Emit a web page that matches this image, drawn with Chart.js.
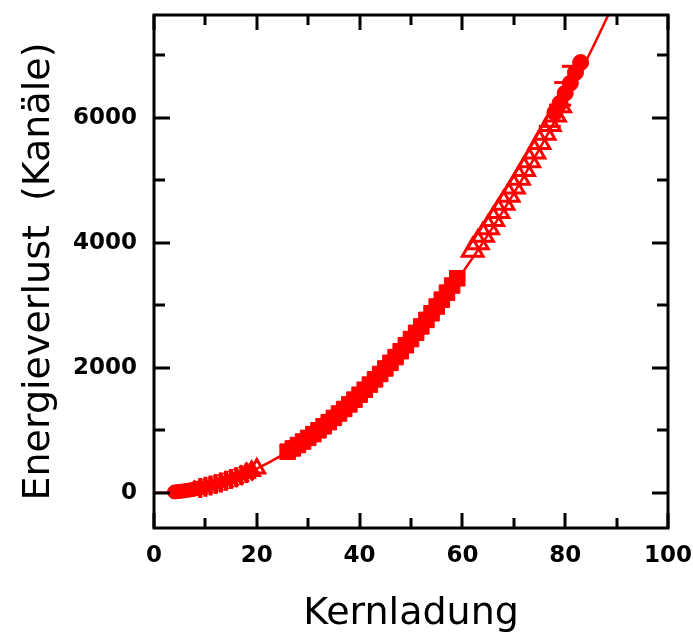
<!DOCTYPE html>
<html>
<head>
<meta charset="utf-8">
<script src="https://cdn.jsdelivr.net/npm/chart.js@4.4.1/dist/chart.umd.min.js"></script>
<style>
html,body{margin:0;padding:0;background:#fff;}
#wrap{width:693px;height:637px;position:relative;}
</style>
</head>
<body>
<div id="wrap"><canvas id="c" width="693" height="637"></canvas></div>
<script>
// ---- data ----
const xTitle = "Kernladung";
const yTitle = "Energieverlust  (Kanäle)";
const xTickValues = [0, 20, 40, 60, 80, 100];
const yTickValues = [0, 2000, 4000, 6000];

// fit curve
const curveZ = [0, 3, 5, 10, 15, 20, 25, 30, 35, 40, 45, 50, 55, 60, 65, 70, 75, 80, 85, 90];
const curveE = [0, 9, 25, 98, 220, 390, 610, 880, 1195, 1565, 1980, 2445, 2960, 3520, 4130, 4790, 5500, 6260, 7060, 7920];

// filled circles (light nuclei)
const circZ = [4, 4.5, 5, 5.5, 6, 6.5, 7, 7.5, 8, 8.5, 9];
const circE = [16, 20, 25, 30, 36, 42, 48, 56, 63, 71, 80];

// stars (with error bars)
const starZ = [9, 10, 11, 12, 13, 14, 15, 16, 17, 18];
const starE = [80, 98, 120, 142, 167, 194, 222, 252, 285, 318];

// open triangles (low Z)
const triLowZ = [18, 19, 20];
const triLowE = [318, 352, 390];

// filled squares
const sqZ = [26, 27, 28, 29, 30, 31, 32, 33, 34, 35, 36, 37, 38, 39, 40, 41, 42, 43, 44, 45, 46, 47, 48, 49, 50, 51, 52, 53, 54, 55, 56, 57, 58, 59];
const sqE = [660, 712, 766, 822, 880, 940, 1002, 1066, 1132, 1200, 1270, 1342, 1416, 1492, 1570, 1650, 1732, 1816, 1902, 1990, 2080, 2172, 2266, 2362, 2460, 2560, 2662, 2766, 2872, 2980, 3090, 3202, 3316, 3432];

// open triangles (high Z)
const triZ = [62, 63, 64, 65, 66, 67, 68, 69, 70, 71, 72, 73, 74, 75, 76, 77, 78, 79];
const triE = [3880, 4000, 4120, 4240, 4370, 4500, 4630, 4760, 4890, 5030, 5170, 5310, 5450, 5600, 5750, 5890, 6040, 6190];

// filled circles (heavy nuclei)
const heavyZ = [78, 79, 80, 81, 82, 83];
const heavyE = [6080, 6230, 6390, 6550, 6720, 6880];

// horizontal error bars
const barZ = [77, 79, 80, 81.5];
const barE = [5860, 6200, 6560, 6820];

const toPts = (xs, ys) => xs.map((x, i) => ({x: x, y: ys[i]}));
const RED = '#ff0000';

const framePlugin = {
  id: 'frame',
  afterDatasetsDraw(chart) {
    const ctx = chart.ctx, a = chart.chartArea;
    const xs = chart.scales.x, ys = chart.scales.y;
    ctx.save();
    ctx.strokeStyle = '#000';
    ctx.lineWidth = 3;
    ctx.lineCap = 'butt';
    ctx.strokeRect(a.left, a.top, a.right - a.left, a.bottom - a.top);
    ctx.beginPath();
    for (let v = 0; v <= 100; v += 10) {
      const px = Math.round(xs.getPixelForValue(v));
      const len = (v % 20 === 0) ? 15 : 10;
      ctx.moveTo(px, a.bottom); ctx.lineTo(px, a.bottom - len);
      ctx.moveTo(px, a.top); ctx.lineTo(px, a.top + len);
    }
    for (let v = 0; v <= 7000; v += 1000) {
      const py = Math.round(ys.getPixelForValue(v));
      const len = (v % 2000 === 0) ? 16 : 11;
      ctx.moveTo(a.left, py); ctx.lineTo(a.left + len, py);
      ctx.moveTo(a.right, py); ctx.lineTo(a.right - len, py);
    }
    ctx.stroke();
    ctx.restore();
  }
};

const tickFont = {family: 'DejaVu Sans', size: 23, weight: 'bold'};
const titleFont = {family: 'DejaVu Sans', size: 38};

new Chart(document.getElementById('c'), {
  type: 'scatter',
  data: {
    datasets: [
      {data: toPts(curveZ, curveE), showLine: true, borderColor: RED, borderWidth: 2.5, pointRadius: 0, cubicInterpolationMode: 'monotone', order: 10},
      {data: toPts(circZ, circE), pointStyle: 'circle', pointRadius: 7, backgroundColor: RED, borderColor: RED, borderWidth: 1},
      {data: toPts(starZ, starE), pointStyle: 'star', pointRadius: 10, backgroundColor: RED, borderColor: RED, borderWidth: 4},
      {data: toPts(triLowZ, triLowE), pointStyle: 'triangle', pointRadius: 9, backgroundColor: 'rgba(0,0,0,0)', borderColor: RED, borderWidth: 3},
      {data: toPts(sqZ, sqE), pointStyle: 'rect', pointRadius: 11, backgroundColor: RED, borderColor: RED, borderWidth: 1},
      {data: toPts(triZ, triE), pointStyle: 'triangle', pointRadius: 12, backgroundColor: 'rgba(0,0,0,0)', borderColor: RED, borderWidth: 3},
      {data: toPts(heavyZ, heavyE), pointStyle: 'circle', pointRadius: 8, backgroundColor: RED, borderColor: RED, borderWidth: 1},
      {data: toPts(barZ, barE), pointStyle: 'line', pointRadius: 11, backgroundColor: RED, borderColor: RED, borderWidth: 3}
    ]
  },
  options: {
    responsive: false,
    animation: false,
    devicePixelRatio: 1,
    events: [],
    layout: {padding: {top: 10, right: 25, left: 0, bottom: 0}},
    plugins: {legend: {display: false}, tooltip: {enabled: false}},
    scales: {
      x: {
        type: 'linear', min: 0, max: 100,
        grid: {display: false, drawTicks: false},
        border: {display: false},
        afterBuildTicks(s) { s.ticks = xTickValues.map(v => ({value: v})); },
        ticks: {color: '#000', font: tickFont, padding: 14, maxRotation: 0, callback: v => String(v)},
        title: {display: true, text: xTitle, color: '#000', font: titleFont, padding: {top: 0, bottom: 0}},
        afterFit(s) { s.height = 109; s.paddingLeft = 0; s.paddingRight = 0; }
      },
      y: {
        type: 'linear', min: -560, max: 7640,
        grid: {display: false, drawTicks: false},
        border: {display: false},
        afterBuildTicks(s) { s.ticks = yTickValues.map(v => ({value: v})); },
        ticks: {color: '#000', font: tickFont, padding: 17, callback: v => String(v)},
        title: {display: true, text: yTitle, color: '#000', font: titleFont, padding: {top: 16, bottom: 0}},
        afterFit(s) { s.width = 154; s.paddingTop = 0; s.paddingBottom = 0; }
      }
    }
  },
  plugins: [framePlugin]
});
</script>
</body>
</html>
